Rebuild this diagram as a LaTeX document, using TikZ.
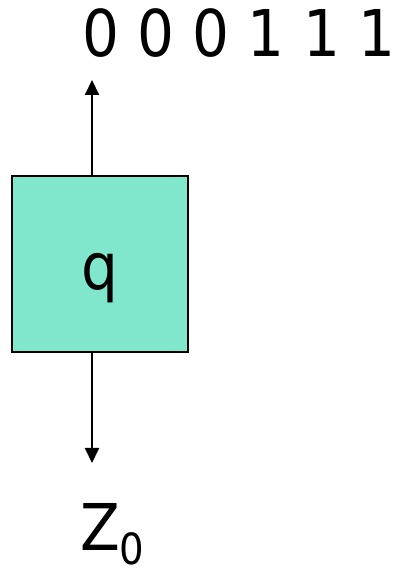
\documentclass[tikz,border=0pt]{standalone}
\usepackage{fontspec}
\setmainfont{DejaVu Sans Condensed}
\usetikzlibrary{arrows.meta,positioning}
\definecolor{statefill}{RGB}{128,230,204}

\begin{document}
\begin{tikzpicture}[x=1pt, y=1pt, line width=2pt, >={Triangle[length=15pt,width=14pt]},
		font=\fontsize{64.5}{70}\selectfont]
			\useasboundingbox (0,0) rectangle (394,572);
			\tikzset{state/.style={draw, fill=statefill, minimum size=176pt, inner sep=0pt,
					text height=52pt, text depth=0pt}}
			\node[state] (q) at (100,308) {q};
			\node[anchor=base west, inner sep=0pt] (bits) at (81,515) {0 0 0 1 1 1};
			\node[anchor=base west, inner sep=0pt] (stack) at (79,21)
			{Z{\fontsize{43}{45}\selectfont\raisebox{-14pt}{0}}};
			\coordinate (up) at (92,492);
			\coordinate (down) at (92,109);
			\draw[->] (q.north -| up)--(up);
			\draw[->] (q.south -| down)--(down);
	\end{tikzpicture}
\end{document}
